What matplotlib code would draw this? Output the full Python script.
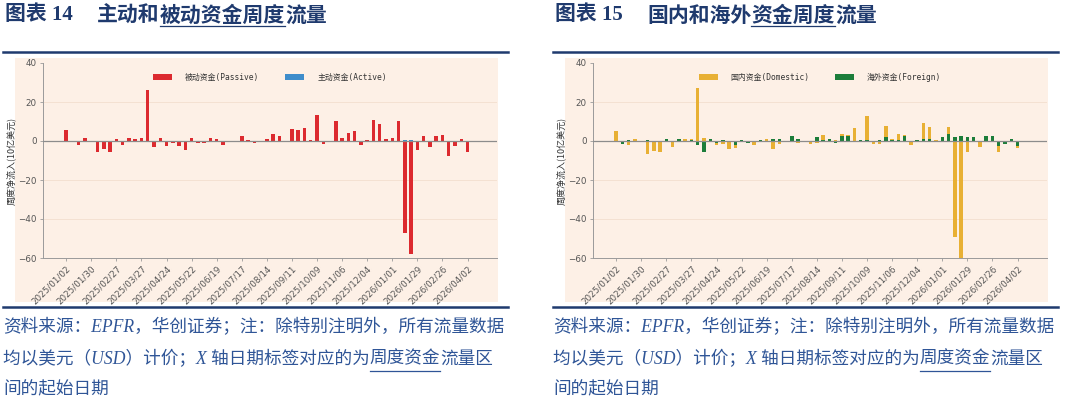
import numpy as np
import matplotlib
matplotlib.use("Agg")
import matplotlib.pyplot as plt
from matplotlib.patches import Rectangle
from matplotlib.lines import Line2D

plt.rcParams['font.family'] = ['DejaVu Sans', 'Noto Sans CJK SC']
plt.rcParams['axes.unicode_minus'] = True

# tick labels every 4 weeks (categorical x axis)
tick_labels = ["2025/01/02", "2025/01/30", "2025/02/27", "2025/03/27", "2025/04/24",
               "2025/05/22", "2025/06/19", "2025/07/17", "2025/08/14", "2025/09/11",
               "2025/10/09", "2025/11/06", "2025/12/04", "2026/01/01", "2026/01/29",
               "2026/02/26", "2026/04/02"]

passive = [5.5, -0.5, -2.0, 1.5, -0.2, -5.5, -4.3, -5.5, 1.0, -2.2,
           1.4, 1.0, 1.3, 26.3, -3.3, 1.5, -2.4, -1.0, -2.8, -4.8,
           1.7, -1.0, -1.0, 1.6, 1.1, -2.3, 0.1, -0.2, 2.7, 0.3,
           -0.8, -0.4, 1.2, 3.8, 2.4, -0.5, 6.3, 5.8, 6.6, 0.6,
           13.2, -1.4, -0.5, 10.4, 1.6, 4.1, 5.3, -2.3, 0.3, 10.6,
           8.7, 0.9, 1.4, 10.3, -47.0, -58.0, -4.5, 2.5, -3.0, 2.5,
           3.2, -7.5, -2.5, 0.9, -5.8]
active = [0.1, -0.4, 0.1, 0.0, -0.1, 0.1, 0.0, 0.1, 0.0, -0.1,
          0.1, 0.0, 0.1, -0.6, 0.1, 0.0, -0.1, 0.0, 0.1, 0.0,
          0.0, -0.1, 0.0, 0.1, 0.0, 0.0, -0.1, -0.3, 0.0, 0.1,
          0.0, 0.0, 0.1, 0.0, 0.1, 0.0, 0.1, 0.0, 0.0, 0.1,
          0.0, -0.1, 0.0, 0.1, 0.0, 0.1, 0.0, 0.0, 0.1, 0.0,
          0.1, 0.0, 0.1, 0.0, 0.5, 0.7, 0.1, 0.0, -0.1, 0.0,
          0.1, 0.0, -0.1, 0.0, 0.1]

domestic = [5.0, 0.2, -2.2, 1.0, -0.3, -6.5, -5.3, -5.8, 0.3, -3.3,
            0.5, 1.0, 0.8, 27.2, 1.5, 0.3, -2.0, -1.3, -4.0, -3.6,
            0.2, -0.3, -1.8, 0.2, 1.2, -4.0, -1.5, 0.2, 0.3, -1.0,
            -0.4, -1.3, -1.0, 3.3, 1.0, 0.3, 3.5, 3.0, 6.5, 0.3,
            13.0, -1.5, -1.5, 7.5, 0.8, 3.5, 3.0, -2.0, 0.2, 9.0,
            7.2, 0.7, -0.3, 7.0, -49.0, -60.0, -5.5, 0.3, -3.0, 0.5,
            0.3, -5.5, -1.0, 0.3, -3.5]
foreign = [0.2, -1.4, 0.3, 0.2, -0.2, 0.3, 0.2, -0.3, 0.8, 0.2,
           1.0, -0.5, 0.3, -2.0, -5.8, 0.8, -1.0, 0.3, -0.5, -2.0,
           0.6, -0.8, 0.2, 0.6, -0.4, 0.8, 1.2, -0.3, 2.4, 0.9,
           -0.6, 0.2, 2.0, 0.5, 1.0, -1.0, 2.5, 2.5, 0.2, 0.5,
           0.3, -0.3, 0.5, 2.0, 0.5, 0.3, 2.5, -0.3, 0.3, 1.0,
           1.2, 0.2, 1.8, 3.5, 2.0, 2.5, 2.0, 2.0, 0.2, 2.5,
           2.8, -2.5, -1.5, 1.0, -2.5]

W, H = 1080, 403
PEACH = '#fdf0e6'
NAVY = '#1f3a6e'
CAP = '#2f5597'
fig = plt.figure(figsize=(W / 100, H / 100), dpi=100)
fig.patch.set_facecolor('white')
rend = fig.canvas.get_renderer()


def fx(px):
    return px / W


def fy(py):
    return 1 - py / H


def hline(x0, x1, y, lw, color):
    fig.add_artist(Line2D([fx(x0), fx(x1)], [fy(y), fy(y)], lw=lw, color=color,
                          transform=fig.transFigure))


def put_runs(x_px, y_px, runs, ul_y, ul_color, **kw):
    x = fx(x_px)
    for s, ul in runs:
        t = fig.text(x, fy(y_px), s, va='center', ha='left', **kw)
        bb = t.get_window_extent(rend)
        if ul:
            hline(bb.x0, bb.x1, ul_y, 0.9, ul_color)
        x = bb.x1 / W


def panel(x_off, title_no, title_runs, s1, s2, c1, c2, l1, l2):
    # title
    fig.text(fx(x_off + 5), fy(15), "图表 " + title_no, va='center', ha='left',
             fontsize=15, fontweight='bold', color=NAVY,
             family=['Liberation Serif', 'Noto Sans CJK SC'])
    put_runs(x_off + 97, 15, title_runs, 26, NAVY, fontsize=15, fontweight='bold',
             color=NAVY, family=['Noto Sans CJK SC'])
    hline(x_off + 3, x_off + 508, 51.5, 1.8, NAVY)

    # peach chart box
    fig.add_artist(Rectangle((fx(x_off + 15), fy(302)), fx(483), 244 / H,
                             transform=fig.transFigure, facecolor=PEACH,
                             edgecolor='none', zorder=0))

    ax = fig.add_axes([fx(x_off + 43), fy(258), fx(454), 195 / H])
    ax.set_facecolor(PEACH)
    x = np.arange(len(s1))
    ax.bar(x, s1, width=0.55, color=c1, label=l1, zorder=2)
    ax.bar(x, s2, width=0.55, color=c2, label=l2, zorder=3)
    ax.axhline(0, color='#8c8c8c', lw=0.9, zorder=4)
    ax.set_ylim(-60, 40)
    ax.set_yticks([40, 20, 0, -20, -40, -60])
    ax.set_xlim(-3.7, 68.7)
    ax.set_xticks(x[::4])
    ax.set_xticklabels(tick_labels, rotation=45, ha='right', rotation_mode='anchor')
    for g in [20, -20, -40]:
        ax.axhline(g, color='#f3dfcf', lw=0.6, zorder=1)
    for side in ['top', 'right']:
        ax.spines[side].set_visible(False)
    for side in ['left', 'bottom']:
        ax.spines[side].set_color('#9a9a9a')
        ax.spines[side].set_linewidth(0.7)
    ax.tick_params(axis='both', labelsize=6.3, colors='#9a9a9a', labelcolor='#555555',
                   length=2.5, width=0.6, pad=2)
    ax.set_ylabel("周度净流入(10亿美元)", fontsize=6.5, color='#333333',
                  family=['Noto Sans CJK SC'])
    ax.yaxis.set_label_coords(-0.058, 0.5)
    leg = ax.legend(loc='upper center', bbox_to_anchor=(0.5, 0.985), ncol=2,
                    frameon=False, handlelength=2.4, handleheight=0.8,
                    handletextpad=1.6, columnspacing=3.3,
                    prop={'family': ['DejaVu Sans Mono', 'Noto Sans CJK SC'], 'size': 5.7})
    for t in leg.get_texts():
        t.set_color('#333333')

    # source note
    hline(x_off + 3, x_off + 508, 307, 1.8, NAVY)
    cap_kw = dict(fontsize=12.7, style='italic', color=CAP,
                  family=['Liberation Serif', 'Noto Sans CJK SC'])
    put_runs(x_off + 3, 327, [("资料来源：EPFR，华创证券；注：除特别注明外，所有流量数据", False)],
             0, CAP, **cap_kw)
    put_runs(x_off + 3, 359, [("均以美元（USD）计价；X 轴日期标签对应的为", False),
                              ("周度资金", True), ("流量区", False)], 371, CAP, **cap_kw)
    put_runs(x_off + 3, 390, [("间的起始日期", False)], 0, CAP, **cap_kw)


panel(0, "14", [("主动和", False), ("被动资金周度", True), ("流量", False)],
      passive, active, '#dc2a2f', '#3f8dcb',
      "被动资金(Passive)", "主动资金(Active)")
panel(550, "15", [("国内和海外", False), ("资金周度", True), ("流量", False)],
      domestic, foreign, '#e8b034', '#1c7d3a',
      "国内资金(Domestic)", "海外资金(Foreign)")

fig.savefig("out.png", dpi=100, facecolor='white')
